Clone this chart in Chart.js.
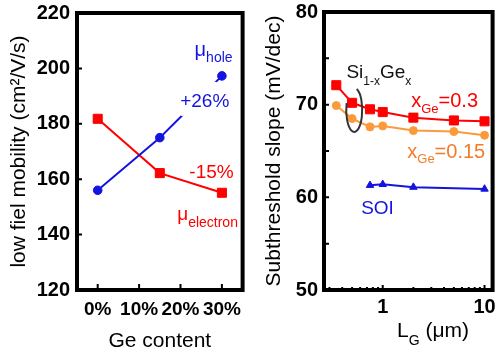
<!DOCTYPE html>
<html>
<head>
<meta charset="utf-8">
<script src="https://cdn.jsdelivr.net/npm/chart.js@4/dist/chart.umd.min.js"></script>
<style>
  html, body { margin: 0; padding: 0; background: #fff; }
  #wrap { position: relative; width: 500px; height: 352px; overflow: hidden; }
  canvas { position: absolute; top: 0; }
  #mobility { left: 0; }
  #slope { left: 250px; }
</style>
</head>
<body>
<div id="wrap">
  <canvas id="mobility" width="250" height="352"></canvas>
  <canvas id="slope" width="250" height="352"></canvas>
</div>
<script>
// ---- Mobility vs. Ge content ----
const geContent = [0, 15, 30];                    // %
const holeMobility = [156, 175, 197.3];           // cm²/V/s
const electronMobility = [181.8, 162.2, 155.1];   // cm²/V/s
const geTicks = [0, 10, 20, 30];
const mobilityTicks = [120, 140, 160, 180, 200, 220];

// ---- Subthreshold slope vs. gate length ----
const gateLength = [0.35, 0.5, 0.75, 1, 2, 5, 10];          // µm
const slopeGe30 = [72.1, 70.2, 69.5, 69.2, 68.6, 68.3, 68.2]; // mV/dec
const slopeGe15 = [69.9, 68.5, 67.6, 67.7, 67.2, 67.1, 66.7];
const soiGateLength = [0.75, 1, 2, 10];
const slopeSoi = [61.3, 61.4, 61.1, 60.9];
const lengthTicks = [1, 10];
const lengthMinorTicks = [0.3, 0.4, 0.5, 0.6, 0.7, 0.8, 0.9, 2, 3, 4, 5, 6, 7, 8, 9];
const slopeTicks = [50, 60, 70, 80];
const slopeMinorTicks = [55, 65, 75];

const FONT = "'Liberation Sans', Arial, Helvetica, sans-serif";
const RED = '#ff0000';
const BLUE = '#1414e0';
const ORANGE = '#fb9a3b';
const ORANGE_TEXT = '#f27c2a';

function toPoints(xs, ys) { return xs.map((v, i) => ({ x: v, y: ys[i] })); }

// text made of runs: [text, size, baselineShift]
function richText(ctx, parts, x, y, color, align) {
  let w = 0;
  parts.forEach(p => { ctx.font = p[1] + 'px ' + FONT; w += ctx.measureText(p[0]).width; });
  let cx = align === 'center' ? x - w / 2 : x;
  ctx.fillStyle = color;
  ctx.textAlign = 'left';
  ctx.textBaseline = 'alphabetic';
  parts.forEach(p => {
    ctx.font = p[1] + 'px ' + FONT;
    ctx.fillText(p[0], cx, y + (p[2] || 0));
    cx += ctx.measureText(p[0]).width;
  });
}

// boxed frame with inward tick marks
const framePlugin = {
  id: 'frame',
  afterDraw(chart, args, o) {
    const { ctx, chartArea: a, scales: { x, y } } = chart;
    ctx.save();
    ctx.strokeStyle = '#000';
    ctx.lineWidth = 2;
    ctx.beginPath();
    (o.xMajor || []).forEach(v => { const p = x.getPixelForValue(v); ctx.moveTo(p, a.bottom); ctx.lineTo(p, a.bottom - o.xMajorLen); });
    (o.xMinor || []).forEach(v => { const p = x.getPixelForValue(v); ctx.moveTo(p, a.bottom); ctx.lineTo(p, a.bottom - o.xMinorLen); });
    (o.yMajor || []).forEach(v => { const p = y.getPixelForValue(v); ctx.moveTo(a.left, p); ctx.lineTo(a.left + o.yLen, p); });
    ctx.stroke();
    ctx.lineWidth = 4;
    ctx.strokeRect(a.left, a.top, a.right - a.left, a.bottom - a.top);
    ctx.restore();
  }
};

// in-plot labels anchored at data coordinates
const notesPlugin = {
  id: 'notes',
  afterDatasetsDraw(chart, args, o) {
    const { ctx, scales: { x, y } } = chart;
    ctx.save();
    (o.items || []).forEach(it => {
      const px = x.getPixelForValue(it.x), py = y.getPixelForValue(it.y);
      if (it.box) {
        ctx.fillStyle = '#fff';
        ctx.fillRect(px + it.box[0], py + it.box[1], it.box[2], it.box[3]);
      }
      richText(ctx, it.parts, px, py, it.color, it.align);
    });
    (o.rings || []).forEach(r => {
      const px = x.getPixelForValue(r.x), py = y.getPixelForValue(r.y);
      ctx.strokeStyle = r.color;
      ctx.lineWidth = 2;
      ctx.beginPath();
      ctx.ellipse(px, py, r.rx, r.ry, 0, r.start, r.end);
      ctx.stroke();
    });
    (o.titles || []).forEach(t => {
      richText(ctx, t.parts, chart.chartArea.left + t.dx, t.y, t.color, 'left');
    });
    ctx.restore();
  }
};

function fixWidth(w) { return s => { s.width = w; s.paddingTop = 0; s.paddingBottom = 0; }; }
function fixHeight(h) { return s => { s.height = h; s.paddingLeft = 0; s.paddingRight = 0; }; }
function setTicks(list) { return s => { s.ticks = list.map(v => ({ value: v })); }; }

const baseOptions = {
  responsive: false,
  maintainAspectRatio: false,
  devicePixelRatio: 1,
  animation: false,
  events: []
};

// ---------- left chart ----------
new Chart(document.getElementById('mobility'), {
  type: 'scatter',
  data: {
    datasets: [
      {
        data: toPoints(geContent, holeMobility),
        showLine: true,
        borderColor: BLUE, backgroundColor: BLUE, borderWidth: 2,
        pointStyle: 'circle', pointRadius: 4.3, pointBorderWidth: 1
      },
      {
        data: toPoints(geContent, electronMobility),
        showLine: true,
        borderColor: RED, backgroundColor: RED, borderWidth: 2,
        pointStyle: 'rect', pointRadius: 6.4, pointBorderWidth: 1
      }
    ]
  },
  options: {
    ...baseOptions,
    layout: { padding: { left: 0, right: 2.5, top: 13, bottom: 0 } },
    scales: {
      x: {
        type: 'linear', min: -5, max: 35,
        afterBuildTicks: setTicks(geTicks),
        afterFit: fixHeight(62),
        grid: { display: false, drawTicks: false },
        border: { display: false },
        ticks: {
          autoSkip: false, maxRotation: 0, minRotation: 0, padding: 8.5,
          color: '#000', font: { family: FONT, size: 19, weight: 'bold' },
          callback: v => v + '%'
        },
        title: {
          display: true, text: 'Ge content', color: '#000',
          font: { family: FONT, size: 21, lineHeight: 1 },
          padding: { top: 0, bottom: 0 }
        }
      },
      y: {
        min: 120, max: 220,
        afterBuildTicks: setTicks(mobilityTicks),
        afterFit: fixWidth(77),
        grid: { display: false, drawTicks: false },
        border: { display: false },
        ticks: {
          autoSkip: false, padding: 7,
          color: '#000', font: { family: FONT, size: 20, weight: 'bold' }
        },
        title: {
          display: true, text: 'low fiel mobility (cm²/V/s)', color: '#000',
          font: { family: FONT, size: 21, lineHeight: 1.2 },
          padding: { top: 6.4, bottom: 0 }
        }
      }
    },
    plugins: {
      legend: { display: false },
      tooltip: { enabled: false },
      frame: { xMajor: geTicks, xMajorLen: 6, yMajor: mobilityTicks, yLen: 5 },
      notes: {
        items: [
          { x: 23.4, y: 204.5, color: BLUE, parts: [['μ', 20], ['hole', 14, 6]] },
          { x: 25.85, y: 186.1, color: BLUE, align: 'center', box: [-24, -25, 36, 34], parts: [['+26%', 19]] },
          { x: 27.5, y: 160.4, color: RED, align: 'center', parts: [['-15%', 19]] },
          { x: 19.2, y: 145.1, color: RED, parts: [['μ', 19], ['electron', 14, 6.5]] }
        ]
      }
    }
  },
  plugins: [framePlugin, notesPlugin]
});

// ---------- right chart ----------
new Chart(document.getElementById('slope'), {
  type: 'scatter',
  data: {
    datasets: [
      {
        data: toPoints(gateLength, slopeGe30),
        showLine: true,
        borderColor: RED, backgroundColor: RED, borderWidth: 2,
        pointStyle: 'rect', pointRadius: 6.4, pointBorderWidth: 1
      },
      {
        data: toPoints(gateLength, slopeGe15),
        showLine: true,
        borderColor: ORANGE, backgroundColor: ORANGE, borderWidth: 2,
        pointStyle: 'circle', pointRadius: 4, pointBorderWidth: 1
      },
      {
        data: toPoints(soiGateLength, slopeSoi),
        showLine: true,
        borderColor: BLUE, backgroundColor: BLUE, borderWidth: 2,
        pointStyle: 'triangle', pointRadius: 4.3, pointBorderWidth: 1
      }
    ]
  },
  options: {
    ...baseOptions,
    layout: { padding: { left: 0, right: 3, top: 12, bottom: 0 } },
    scales: {
      x: {
        type: 'logarithmic', min: 0.265, max: 12,
        afterBuildTicks: setTicks(lengthTicks),
        afterFit: fixHeight(62),
        grid: { display: false, drawTicks: false },
        border: { display: false },
        ticks: {
          autoSkip: false, maxRotation: 0, minRotation: 0, padding: 5.8,
          color: '#000', font: { family: FONT, size: 20, weight: 'bold' },
          callback: v => String(v)
        },
        title: { display: false }
      },
      y: {
        min: 50, max: 80,
        afterBuildTicks: setTicks(slopeTicks),
        afterFit: fixWidth(74),
        grid: { display: false, drawTicks: false },
        border: { display: false },
        ticks: {
          autoSkip: false, padding: 6,
          color: '#000', font: { family: FONT, size: 20, weight: 'bold' }
        },
        title: {
          display: true, text: 'Subthreshold slope (mV/dec)', color: '#000',
          font: { family: FONT, size: 21, lineHeight: 1.2 },
          padding: { top: 11.4, bottom: 0 }
        }
      }
    },
    plugins: {
      legend: { display: false },
      tooltip: { enabled: false },
      frame: {
        xMajor: lengthTicks, xMajorLen: 5, xMinor: lengthMinorTicks, xMinorLen: 3,
        yMajor: slopeTicks.concat(slopeMinorTicks), yLen: 5
      },
      notes: {
        items: [
          { x: 0.44, y: 72.88, color: '#111', parts: [['Si', 19], ['1-x', 12, 7], ['Ge', 19], ['x', 12, 7]] },
          { x: 1.905, y: 69.75, color: RED, parts: [['x', 20], ['Ge', 13, 6], ['=0.3', 20]] },
          { x: 1.742, y: 64.25, color: ORANGE_TEXT, parts: [['x', 20], ['Ge', 13, 5], ['=0.15', 20]] },
          { x: 0.614, y: 58.2, color: BLUE, parts: [['SOI', 19]] }
        ],
        rings: [
          { x: 0.525, y: 69.43, rx: 8, ry: 22, color: '#333', start: -1.25, end: Math.PI * 1.1 }
        ],
        titles: [
          { dx: 73, y: 337, color: '#000', parts: [['L', 21], ['G', 14, 8], [' (μm)', 21]] }
        ]
      }
    }
  },
  plugins: [framePlugin, notesPlugin]
});
</script>
</body>
</html>
